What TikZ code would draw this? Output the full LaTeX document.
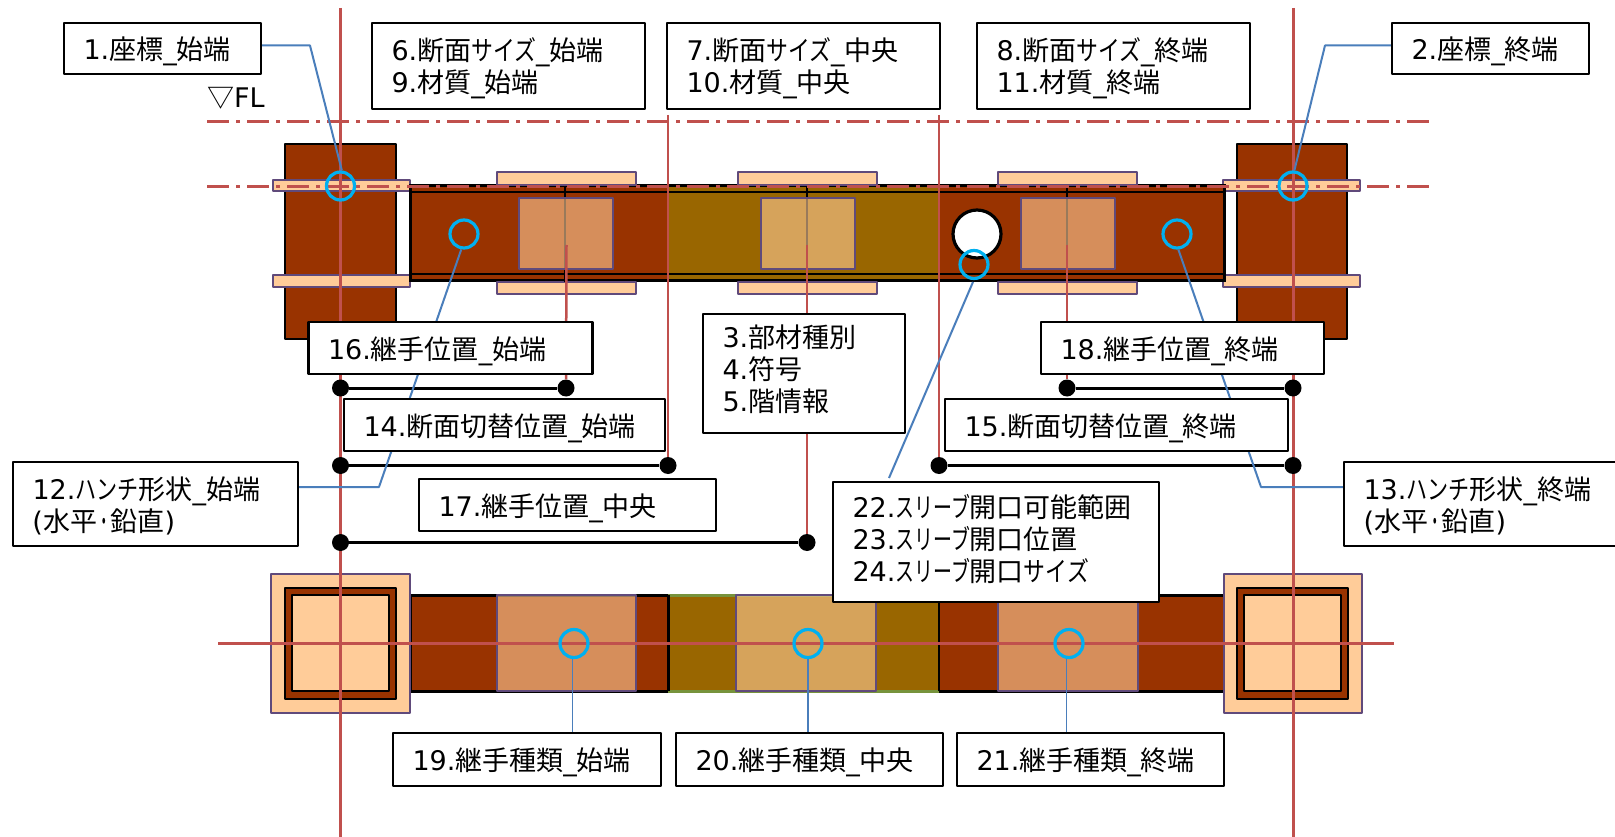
\documentclass[tikz,border=0pt]{standalone}
\usepackage{fontspec}
\setmainfont{DejaVu Sans}
\newfontfamily\jpf{Noto Sans CJK JP}
\newfontfamily\knf[FakeStretch=0.81]{Noto Sans CJK JP}
\newfontfamily\khf[FakeStretch=0.78]{Noto Sans CJK JP}
\newfontfamily\ksf[FakeStretch=0.70]{Noto Sans CJK JP}
\newfontfamily\dotf[FakeStretch=0.5]{Noto Sans CJK JP}
\newcommand{\jj}[1]{{\jpf #1}}
\newcommand{\kk}[1]{{\knf #1}}
\newcommand{\kh}[1]{{\khf #1}}
\newcommand{\ks}[1]{{\ksf #1}}
\newcommand{\firstln}{\rule{0pt}{27pt}}
\newcommand{\oneln}{\rule[-6pt]{0pt}{35pt}}
\AtBeginDocument{\lineskiplimit=-100pt\relax}
\definecolor{brownB}{HTML}{993300}
\definecolor{goldB}{HTML}{996600}
\definecolor{plateF}{HTML}{FFCC99}
\definecolor{plateE}{HTML}{604A7B}
\definecolor{gridR}{HTML}{C0504D}
\definecolor{ringC}{HTML}{00B0F0}
\definecolor{leadB}{HTML}{4A7EBB}
\definecolor{greenE}{HTML}{77933C}
\pgfdeclarelayer{front}
\pgfsetlayers{main,front}
\tikzset{
  lblbox/.style={draw=black,line width=2.8pt,fill=white,anchor=north west,outer sep=0pt,inner xsep=19.5pt,inner ysep=0pt,align=left,
    font=\fontsize{27}{32}\selectfont,line join=round},
  gridline/.style={draw=gridR,line width=3pt},
  reflink/.style={draw=gridR,line width=2.5pt},
  floorline/.style={draw=gridR,line width=3pt,dash pattern=on 22pt off 7pt on 4pt off 7pt},
  member/.style={draw=black,line width=2.9pt,fill=brownB,line join=round},
  plate/.style={draw=plateE,line width=2.8pt,fill=plateF,line join=round},
  webplate/.style={draw=plateE,line width=2.8pt,fill=plateF,fill opacity=0.6,line join=round},
  ring/.style={circle,draw=ringC,line width=3.2pt,minimum size=28pt,inner sep=0pt},
  leader/.style={draw=leadB,line width=2pt,line join=round},
  thinleader/.style={draw=leadB,line width=1.2pt},
  dimdot/.style={circle,fill=black,minimum size=17pt,inner sep=0pt},
  dimline/.style={draw=black,line width=3pt},
  blk/.style={draw=black,line width=2.8pt}
}
\begin{document}
\begin{tikzpicture}[x=1pt,y=-1pt]
\useasboundingbox (0,0) rectangle (1615,837);
\fill[white] (0,0) rectangle (1615,837);

% elevation: columns
\draw[member] (285,144) rectangle (396,339);
\draw[member] (1237,144) rectangle (1347,339);
\draw[plate] (273,180) rectangle (410,191);
\draw[plate] (273,275) rectangle (410,287);
\draw[plate] (1223,180) rectangle (1360,191);
\draw[plate] (1223,275) rectangle (1360,287);

% elevation: beam
\fill[brownB] (410,186) rectangle (1224,281);
\fill[goldB] (668,186) rectangle (939,281);
\draw[blk,line width=3pt] (410,186) rectangle (1224,281);
\draw[blk] (410,192) -- (1224,192);
\draw[blk] (410,274) -- (1224,274);
\draw[plate] (497,172) rectangle (636,185);
\draw[plate] (738,172) rectangle (877,185);
\draw[plate] (998,172) rectangle (1137,185);
\draw[plate] (497,282) rectangle (636,294);
\draw[plate] (738,282) rectangle (877,294);
\draw[plate] (998,282) rectangle (1137,294);
\draw[blk] (565,186) -- (565,282);
\draw[blk] (807,186) -- (807,282);
\draw[blk] (1067,186) -- (1067,282);
\draw[webplate] (519,198) rectangle (613,269);
\draw[webplate] (761,198) rectangle (855,269);
\draw[webplate] (1021,198) rectangle (1115,269);
\node[circle,draw=black,line width=3.2pt,fill=white,minimum size=48pt,inner sep=0pt] (sleeve) at (977,234) {};

% plan
\fill[brownB] (410,595) rectangle (668,691);
\fill[goldB] (668,595) rectangle (939,691);
\fill[brownB] (939,595) rectangle (1224,691);
\draw[blk,line width=3pt] (668,595) -- (410,595) -- (410,691) -- (668,691);
\draw[blk,line width=3pt] (939,595) -- (1224,595) -- (1224,691) -- (939,691);
\draw[greenE,line width=3pt] (668,595) -- (939,595) (668,691) -- (939,691);
\draw[blk,line width=3pt] (668,595) -- (668,691);
\draw[blk,line width=2.5pt] (939,595) -- (939,691);
\draw[webplate] (497,595) rectangle (636,691);
\draw[webplate] (736,595) rectangle (876,691);
\draw[webplate] (998,595) rectangle (1138,691);
\draw[plate] (271,574) rectangle (410,713);
\draw[plate] (1224,574) rectangle (1362,713);
\draw[member] (285,588) rectangle (396,699);
\draw[member] (1237,588) rectangle (1348,699);
\draw[member,fill=plateF] (292,595) rectangle (389,691);
\draw[member,fill=plateF] (1244,595) rectangle (1341,691);

% floor lines and grid
\coordinate (fl1a) at (207,122); \coordinate (fl1b) at (1430,122);
\coordinate (fl2a) at (207,186.5); \coordinate (fl2b) at (1430,186.5);
\coordinate (gl1a) at (340.5,8); \coordinate (gl1b) at (340.5,837);
\coordinate (gl2a) at (1293,8); \coordinate (gl2b) at (1293,837);
\coordinate (glha) at (218,643.5); \coordinate (glhb) at (1394,643.5);
\draw[floorline] (fl1a) -- (fl1b);
\draw[floorline] (fl2a) -- (fl2b);
\draw[gridline] (gl1a) -- (gl1b);
\draw[gridline] (gl2a) -- (gl2b);
\draw[gridline] (glha) -- (glhb);

% dimension dots
\node[dimdot] (d1a) at (340.5,388) {};
\node[dimdot] (d1b) at (566,388) {};
\node[dimdot] (d2a) at (340.5,465.5) {};
\node[dimdot] (d2b) at (668,465.5) {};
\node[dimdot] (d3a) at (340.5,542.5) {};
\node[dimdot] (d3b) at (807,542.5) {};
\node[dimdot] (d4a) at (1067,388) {};
\node[dimdot] (d4b) at (1293,388) {};
\node[dimdot] (d5a) at (939,465.5) {};
\node[dimdot] (d5b) at (1293,465.5) {};

% red reference lines
\coordinate (r1) at (566.5,245); \coordinate (r2) at (807,245); \coordinate (r3) at (1067,245);
\coordinate (r4) at (668,115); \coordinate (r5) at (939,115);
\draw[reflink] (r1) -- (d1b);
\draw[reflink] (r2) -- (d3b);
\draw[reflink] (r3) -- (d4a);
\draw[reflink] (r4) -- (d2b);
\draw[reflink] (r5) -- (d5a);
\draw[dimline] (d1a) -- (d1b);
\draw[dimline] (d2a) -- (d2b);
\draw[dimline] (d3a) -- (d3b);
\draw[dimline] (d4a) -- (d4b);
\draw[dimline] (d5a) -- (d5b);

% rings
\node[ring] (c1) at (340.5,186) {};
\node[ring] (c2) at (1293,186) {};
\node[ring] (c16) at (464,234) {};
\node[ring] (c18) at (1177,234) {};
\node[ring] (c22) at (974,264.5) {};
\node[ring] (p1) at (574,643.5) {};
\node[ring] (p2) at (808,643.5) {};
\node[ring] (p3) at (1069,643.5) {};

% labels
\begin{pgfonlayer}{front}
\node[lblbox,minimum width=197pt,minimum height=51pt,text width=158pt] (b1) at (64,23) {\oneln 1.\jj{座標}\_\jj{始端}};
\node[lblbox,minimum width=197pt,minimum height=51pt,text width=158pt] (b2) at (1392,23) {\oneln 2.\jj{座標}\_\jj{終端}};
\node[lblbox,minimum width=273pt,minimum height=86pt,text width=234pt] (b6) at (372,23) {\firstln 6.\jj{断面}\kk{サイズ}\_\jj{始端}\\9.\jj{材質}\_\jj{始端}};
\node[lblbox,minimum width=273pt,minimum height=86pt,text width=234pt] (b7) at (667,23) {\firstln 7.\jj{断面}\kk{サイズ}\_\jj{中央}\\10.\jj{材質}\_\jj{中央}};
\node[lblbox,minimum width=273pt,minimum height=86pt,text width=234pt] (b8) at (977,23) {\firstln 8.\jj{断面}\kk{サイズ}\_\jj{終端}\\11.\jj{材質}\_\jj{終端}};
\node[lblbox,minimum width=202pt,minimum height=119pt,text width=163pt] (b3) at (703,314) {3.\jj{部材種別}\\4.\jj{符号}\\5.\jj{階情報}\rule[-10pt]{0pt}{1pt}};
\node[lblbox,minimum width=284pt,minimum height=52pt,text width=245pt] (b16) at (308.5,322) {\oneln 16.\jj{継手位置}\_\jj{始端}};
\node[lblbox,minimum width=283pt,minimum height=52pt,text width=244pt] (b18) at (1041,322) {\oneln 18.\jj{継手位置}\_\jj{終端}};
\node[lblbox,minimum width=321pt,minimum height=52pt,text width=282pt] (b14) at (344,399) {\oneln 14.\jj{断面切替位置}\_\jj{始端}};
\node[lblbox,minimum width=343pt,minimum height=52pt,text width=304pt] (b15) at (945,399) {\oneln 15.\jj{断面切替位置}\_\jj{終端}};
\node[lblbox,minimum width=285pt,minimum height=84pt,text width=246pt] (b12) at (13,462) {\firstln 12.\kh{ハンチ}\jj{形状}\_\jj{始端}\\(\jj{水平}{\dotf ・}\jj{鉛直})};
\node[lblbox,minimum width=285pt,minimum height=84pt,text width=246pt] (b13) at (1344,462) {\firstln 13.\kh{ハンチ}\jj{形状}\_\jj{終端}\\(\jj{水平}{\dotf ・}\jj{鉛直})};
\node[lblbox,minimum width=297pt,minimum height=52pt,text width=258pt] (b17) at (419,479) {\oneln 17.\jj{継手位置}\_\jj{中央}};
\node[lblbox,minimum width=326pt,minimum height=120pt,text width=287pt] (b22) at (833,482) {22.\ks{スリーブ}\jj{開口可能範囲}\\23.\ks{スリーブ}\jj{開口位置}\\24.\ks{スリーブ}\jj{開口}\kk{サイズ}\rule[-8pt]{0pt}{1pt}};
\node[lblbox,minimum width=268pt,minimum height=53pt,text width=229pt] (b19) at (393,733) {\oneln 19.\jj{継手種類}\_\jj{始端}};
\node[lblbox,minimum width=267pt,minimum height=53pt,text width=228pt] (b20) at (676,733) {\oneln 20.\jj{継手種類}\_\jj{中央}};
\node[lblbox,minimum width=267pt,minimum height=53pt,text width=228pt] (b21) at (957,733) {\oneln 21.\jj{継手種類}\_\jj{終端}};
\node[font=\fontsize{27}{32}\selectfont,anchor=west,inner sep=0pt] (fl) at (207,98) {\jj{▽}FL};
\end{pgfonlayer}

% leaders, under the label boxes
\coordinate (k1) at (310,45.5);
\coordinate (k2) at (1325,45.5);
\coordinate (k12) at (379,487);
\coordinate (k13) at (1261,487);
\coordinate (k22a) at (973,282);
\coordinate (k22b) at (889,478);
\draw[leader] (b1.east |- k1) -- (k1) -- (c1.85);
\draw[leader] (b2.west |- k2) -- (k2) -- (c2.85);
\draw[leader] (k22a) -- (k22b);
\draw[thinleader] (p1.-95) -- (p1.-95 |- b19.north);
\draw[thinleader] (p2.south) -- (p2.south |- b20.north);
\draw[thinleader] (p3.-98) -- (p3.-98 |- b21.north);
\draw[leader] (b12.east |- k12) -- (k12) -- (c16.-100);
\draw[leader] (b13.west |- k13) -- (k13) -- (c18.-85);
\end{tikzpicture}
\end{document}
